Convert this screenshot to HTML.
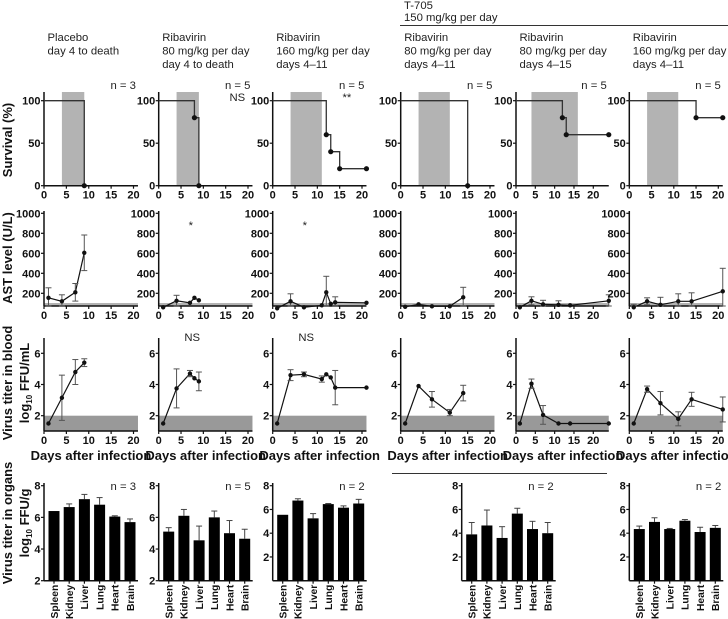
<!DOCTYPE html>
<html><head><meta charset="utf-8"><style>
html,body{margin:0;padding:0;background:#fff;}
svg{display:block;font-family:"Liberation Sans",Arial,sans-serif;}
.t{font-size:11.3px;fill:#222;}
.tk{font-size:11px;font-weight:bold;fill:#111;}
.tko{font-size:10.3px;font-weight:bold;fill:#111;}
.ax{font-size:13px;font-weight:bold;fill:#111;}
</style></head><body>
<svg id="fig" width="728" height="619" viewBox="0 0 728 619" xmlns="http://www.w3.org/2000/svg">
<text class="t" x="404" y="9">T-705</text>
<text class="t" x="404" y="21">150 mg/kg per day</text>
<line x1="400" y1="25.5" x2="728" y2="25.5" stroke="#333" stroke-width="1"/>
<line x1="392" y1="473.5" x2="607" y2="473.5" stroke="#333" stroke-width="1"/>
<text class="ax" transform="translate(12,140) rotate(-90)" text-anchor="middle">Survival (%)</text>
<text class="ax" transform="translate(12,258) rotate(-90)" text-anchor="middle">AST level (U/L)</text>
<text class="ax" transform="translate(12,383) rotate(-90)" text-anchor="middle">Virus titer in blood</text>
<text class="ax" transform="translate(29,383) rotate(-90)" text-anchor="middle">log<tspan font-size="8" dy="3">10</tspan><tspan dy="-3"> FFU/mL</tspan></text>
<text class="ax" transform="translate(12,523) rotate(-90)" text-anchor="middle">Virus titer in organs</text>
<text class="ax" transform="translate(29,523) rotate(-90)" text-anchor="middle">log<tspan font-size="8" dy="3">10</tspan><tspan dy="-3"> FFU/g</tspan></text>
</svg>
<script>
// ---- column setup data ----
const titles=[["Placebo","day 4 to death"],["Ribavirin","80 mg/kg per day","day 4 to death"],["Ribavirin","160 mg/kg per day","days 4–11"],["Ribavirin","80 mg/kg per day","days 4–11"],["Ribavirin","80 mg/kg per day","days 4–15"],["Ribavirin","160 mg/kg per day","days 4–11"]];
const nSurv=["n = 3","n = 5","n = 5","n = 5","n = 5","n = 5"];
const survSig=["","NS","**","","",""];
const treatStart=[4,4,4,4,4,4];
const treatEnd=[9,9,11,11,16,11];
const xMaxDay=[21,21,21,21,24,21];
// survival step data
const survDays=[[0,9],[0,8,9],[0,12,13,15,21],[0,15],[0,12,13,24],[0,15,21]];
const survVals=[[100,0],[100,80,0],[100,60,40,20,20],[100,0],[100,80,60,60],[100,80,80]];
const survDots=[[1],[1,2],[1,2,3,4],[1],[1,2,3],[1,2]];
// AST
const astDays=[[1,4,7,9],[1,4,7,8,9],[1,4,7,11,12,13,14,21],[1,4,7,11,14],[1,4,7,11,14,24],[1,4,7,11,14,21]];
const astVals=[[155,120,210,605],[60,125,105,155,130],[50,120,60,80,210,95,110,105],[65,90,70,70,160],[60,125,90,85,80,125],[60,120,85,120,120,220]];
const astErr=[[100,65,88,178],[0,55,0,0,0],[0,75,0,0,160,0,55,0],[0,0,0,0,100],[0,40,40,40,0,60],[30,35,75,75,85,230]];
const astSig=["","*","*","","",""];
// blood titer
const bloodDays=[[1,4,7,9],[1,4,7,8,9],[1,4,7,11,12,13,14,21],[1,4,7,11,14],[1,4,7,11,14,24],[1,4,7,11,14,21]];
const bloodVals=[[1.5,3.15,4.8,5.4],[1.5,3.75,4.7,4.4,4.2],[1.5,4.6,4.65,4.35,4.65,4.45,3.8,3.8],[1.5,3.9,3.05,2.2,3.45],[1.5,4.05,2.05,1.5,1.5,1.5],[1.5,3.7,2.8,1.8,3.05,2.4]];
const bloodErr=[[0,1.45,0.8,0.25],[0,1.25,0.2,0,0.6],[0,0.35,0.15,0.2,0,0,1.1,0],[0,0,0.5,0.2,0.5],[0,0.3,0.6,0,0,0],[0,0.2,0.75,0.45,0.45,0.8]];
const bloodSig=["","NS","NS","","",""];
// organs
const organs=["Spleen","Kidney","Liver","Lung","Heart","Brain"];
const organCols=[0,1,2,4,5];
const organAxisX=[44,158.7,272.7,461.7,629.3];
const organMin=[2,2,0,0,0];
const organTicks=[[2,4,6,8],[2,4,6,8],[2,4,6,8],[2,4,6,8],[2,4,6,8]];
const organN=["n = 3","n = 5","n = 2","n = 2","n = 2"];
const organVals=[[6.4,6.65,7.15,6.8,6.05,5.7],[5.1,6.1,4.55,6.0,5.0,4.65],[5.55,6.75,5.25,6.45,6.15,6.5],[3.9,4.65,3.6,5.65,4.35,4.0],[4.35,4.95,4.35,5.05,4.1,4.45]];
const organErr=[[0,0.2,0.3,0.45,0.05,0.2],[0.25,0.4,0.9,0.4,0.8,0.6],[0,0.15,0.4,0.05,0.15,0.35],[1.0,1.3,0.95,0.45,0.65,0.9],[0.25,0.35,0.05,0.1,0.4,0.2]];
const xTicks=[0,5,10,15,20];
const survTicks=[0,50,100];
const astTicks=[200,400,600,800,1000];
const bloodTicks=[2,4,6];

const colX0=[44,158.7,272.7,400.7,516,629.3];
const colPx=[4.475,4.465,4.465,4.465,3.865,4.45];
const NS='http://www.w3.org/2000/svg';
const svg=document.getElementById('fig');
function mk(tag,attrs,parent){const e=document.createElementNS(NS,tag);for(const k in attrs)e.setAttribute(k,attrs[k]);(parent||svg).appendChild(e);return e;}
function txt(s,attrs,parent){const e=mk('text',attrs,parent);e.textContent=s;return e;}

function axes(g,c,yTop,yBot,ticks,yfn,xfn){
  const x0=colX0[c],xEnd=xfn(xMaxDay[c]);
  mk('line',{x1:x0,y1:yTop,x2:x0,y2:yBot,stroke:'#111','stroke-width':1.5},g);
  mk('line',{x1:x0,y1:yBot,x2:xEnd,y2:yBot,stroke:'#111','stroke-width':1.5},g);
  ticks.forEach(v=>{const y=yfn(v);mk('line',{x1:x0-3,y1:y,x2:x0,y2:y,stroke:'#111','stroke-width':1.2},g);
    txt(String(v),{class:'tk',x:x0-3.5,y:y+4,'text-anchor':'end'},g);});
  xTicks.forEach(d=>{const x=xfn(d);mk('line',{x1:x,y1:yBot,x2:x,y2:yBot+3,stroke:'#111','stroke-width':1.2},g);
    txt(String(d),{class:'tk',x:x,y:yBot+13,'text-anchor':'middle'},g);});
}
function series(g,xs,ys,errs,xfn,yfn,yBot){
  let p='';xs.forEach((d,i)=>{p+=(i?'L':'M')+xfn(d)+','+yfn(ys[i]);});
  mk('path',{d:p,fill:'none',stroke:'#111','stroke-width':1.2},g);
  xs.forEach((d,i)=>{const x=xfn(d),y=yfn(ys[i]),e=errs[i];
    if(e>0){const y1=yfn(ys[i]+e),y2=Math.min(yBot,yfn(ys[i]-e));
      mk('line',{x1:x,y1:y1,x2:x,y2:y2,stroke:'#555','stroke-width':1},g);
      mk('line',{x1:x-3,y1:y1,x2:x+3,y2:y1,stroke:'#555','stroke-width':1},g);
      mk('line',{x1:x-3,y1:y2,x2:x+3,y2:y2,stroke:'#555','stroke-width':1},g);}
    const dot=mk('circle',{cx:x,cy:y,r:2.2,fill:'#111'},g);
    
    
  });
}

for(let c=0;c<6;c++){
  const x0=colX0[c],px=colPx[c];
  const xfn=d=>x0+d*px;
  const col=mk('g',{});
  
  
  titles[c].forEach((s,i)=>txt(s,{class:'t',x:x0+3.5,y:41+i*13.5},col));
  // survival
  const sg=mk('g',{},col);
  
  
  const sy=v=>185.7-0.85*v;
  const sh=mk('rect',{x:xfn(treatStart[c]),y:92,width:(treatEnd[c]-treatStart[c])*px,height:93.7,fill:'#b3b3b3'},sg);
  
  
  axes(sg,c,92,185.7,survTicks,sy,xfn);
  const sd=survDays[c],sv=survVals[c];
  let p='M'+xfn(sd[0])+','+sy(sv[0]);
  for(let i=1;i<sd.length;i++){p+='H'+xfn(sd[i])+'V'+sy(sv[i]);}
  mk('path',{d:p,fill:'none',stroke:'#333','stroke-width':1.3},sg);
  survDots[c].forEach(i=>{const d=mk('circle',{cx:xfn(sd[i]),cy:sy(sv[i]),r:2.6,fill:'#111'},sg);
    
    });
  const xe=xfn(xMaxDay[c]);
  txt(nSurv[c],{class:'t',x:xe-2,y:89,'text-anchor':'end'},sg);
  if(survSig[c])txt(survSig[c],{class:'t',x:c==1?xe-23:xe-24,y:101,'text-anchor':'start'},sg);
  // AST
  const ag=mk('g',{},col);
  
  
  const ay=v=>313.3-0.1*v;
  mk('rect',{x:x0,y:303,width:xe-x0,height:3,fill:'#b3b3b3'},ag);
  axes(ag,c,211,306,astTicks,ay,xfn);
  series(ag,astDays[c],astVals[c],astErr[c],xfn,ay,306);
  if(astSig[c])txt(astSig[c],{class:'t',x:xfn(7.2),y:229,'text-anchor':'middle'},ag);
  // blood
  const bg=mk('g',{},col);
  
  
  const by=v=>431.3-15.6*(v-1);
  mk('rect',{x:x0,y:by(2),width:xe-x0,height:by(1)-by(2),fill:'#999'},bg);
  axes(bg,c,338,431,bloodTicks,by,xfn);
  series(bg,bloodDays[c],bloodVals[c],bloodErr[c],xfn,by,431);
  if(bloodSig[c])txt(bloodSig[c],{class:'t',x:xfn(7.5),y:341,'text-anchor':'middle'},bg);
  txt('Days after infection',{class:'ax',x:x0+47,y:460,'text-anchor':'middle'},col);
}
// organs
organCols.forEach((c,k)=>{
  const g=mk('g',{});
  
  
  const x0=organAxisX[k],mn=organMin[k],yBot=580.7,yTop=485.7;
  const oy=v=>yBot-(v-mn)*(yBot-yTop)/(8-mn);
  const xEnd=x0+94;
  mk('line',{x1:x0,y1:483,x2:x0,y2:yBot,stroke:'#111','stroke-width':1.5},g);
  mk('line',{x1:x0,y1:yBot,x2:xEnd,y2:yBot,stroke:'#111','stroke-width':1.5},g);
  organTicks[k].forEach(v=>{const y=oy(v);mk('line',{x1:x0-3,y1:y,x2:x0,y2:y,stroke:'#111','stroke-width':1.2},g);
    txt(String(v),{class:'tk',x:x0-3.5,y:y+4,'text-anchor':'end'},g);});
  organs.forEach((o,i)=>{
    const cx=x0+10+i*15.2,v=organVals[k][i],e=organErr[k][i];
    if(e>0){const y1=oy(v+e);mk('line',{x1:cx,y1:y1,x2:cx,y2:oy(v),stroke:'#444','stroke-width':1},g);
      mk('line',{x1:cx-3,y1:y1,x2:cx+3,y2:y1,stroke:'#444','stroke-width':1},g);}
    const b=mk('rect',{x:cx-5.5,y:oy(v),width:11,height:yBot-oy(v),fill:'#000'},g);
    
    
    mk('line',{x1:cx,y1:yBot,x2:cx,y2:yBot+3,stroke:'#111','stroke-width':1.2},g);
    txt(o,{class:'tko',transform:'translate('+(cx+3.8)+','+(yBot+4)+') rotate(-90)','text-anchor':'end'},g);
  });
  txt(organN[k],{class:'t',x:xEnd-2,y:490,'text-anchor':'end'},g);
});
</script>
</body></html>
